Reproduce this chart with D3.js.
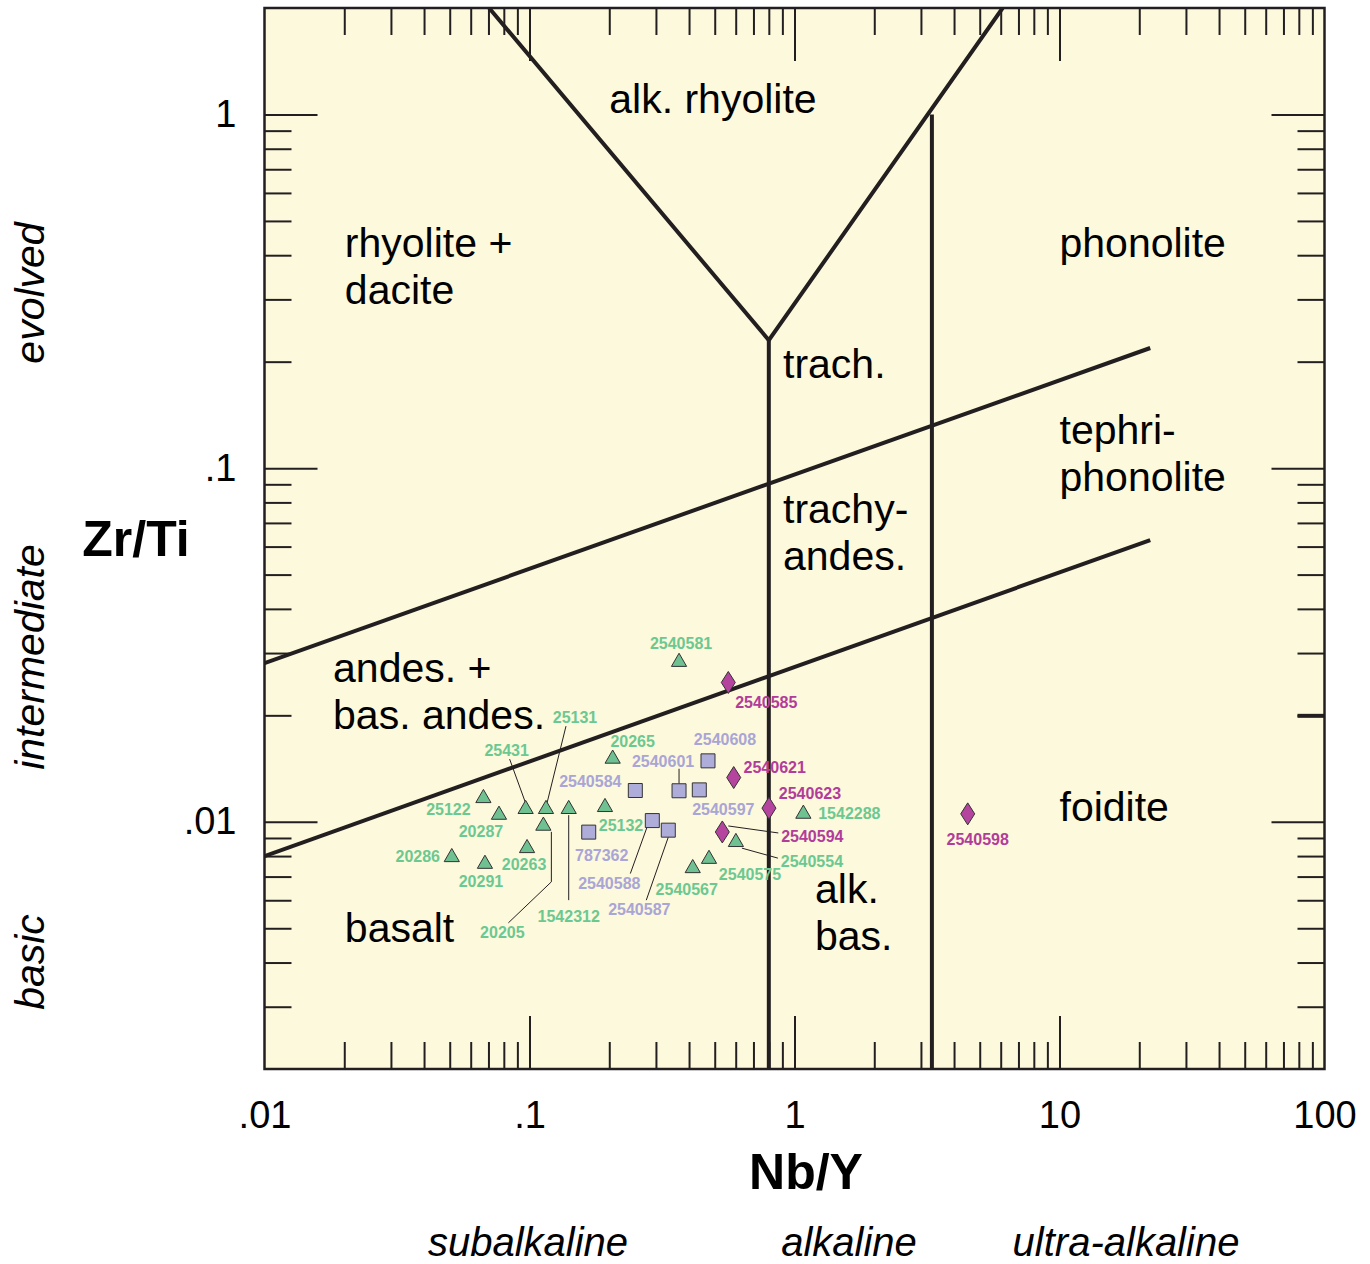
<html>
<head>
  <script src="https://d3js.org/d3.v7.min.js"></script>
  <style>
    body { margin: 0; background: #fff; }
    text { font-family: "Liberation Sans", Arial, Helvetica, sans-serif; }
    .region { font-size: 41px; fill: #000; }
    .sample-label { font-size: 16px; font-weight: bold; }
    .leader { stroke: #231f20; stroke-width: 1; fill: none; }
    .boundary { stroke: #231f20; stroke-width: 4; fill: none; }
  </style>
</head>
<body>
  <svg id="plot" width="1370" height="1264"></svg>

  <script>
    // samples (Nb/Y, Zr/Ti)
    const triIds = ["25122", "20287", "25431", "25131", "1542312", "20205", "20263", "20286",
                    "20291", "20265", "25132", "2540581", "2540554", "2540575", "2540567", "1542288"];
    const triNbY = [0.067, 0.0767, 0.0967, 0.1154, 0.1406, 0.1128, 0.0979, 0.0509,
                    0.0679, 0.206, 0.1927, 0.3667, 0.601, 0.4757, 0.413, 1.08];
    const triZrTi = [0.01166, 0.01046, 0.01086, 0.01086, 0.01086, 0.00974, 0.00842, 0.00794,
                     0.0076, 0.01507, 0.0110, 0.0283, 0.00876, 0.00785, 0.00739, 0.01053];

    const sqIds = ["2540608", "2540601", "2540597", "2540584", "2540588", "2540587", "787362"];
    const sqNbY = [0.4716, 0.3667, 0.4373, 0.2508, 0.2907, 0.334, 0.1673];
    const sqZrTi = [0.01487, 0.01224, 0.01231, 0.01226, 0.01008, 0.00947, 0.00935];

    const diaIds = ["2540585", "2540621", "2540623", "2540594", "2540598"];
    const diaNbY = [0.5625, 0.5897, 0.801, 0.534, 4.504];
    const diaZrTi = [0.02477, 0.01334, 0.01093, 0.00936, 0.01053];

    const xTickValues = [0.01, 0.1, 1, 10, 100];
    const xTickLabels = [".01", ".1", "1", "10", "100"];
    const yTickValues = [0.01, 0.1, 1];
    const yTickLabels = [".01", ".1", "1"];

    // field boundaries, [Nb/Y, Zr/Ti] pairs
    const boundaries = [
      [[0.01, 0.0281], [22, 0.2186]],
      [[0.01, 0.0080], [22, 0.0626]],
      [[0.0704, 2], [0.8, 0.23], [6.1, 2]],
      [[0.8, 0.23], [0.8, 0.002]],
      [[3.3, 1], [3.3, 0.002]]
    ];

    // field names: lines, Nb/Y at start, Zr/Ti at first baseline
    const regionText = [
      { lines: ["alk. rhyolite"], at: [0.2, 1.01] },
      { lines: ["rhyolite +", "dacite"], at: [0.0201, 0.395] },
      { lines: ["phonolite"], at: [10, 0.395] },
      { lines: ["trach."], at: [0.905, 0.18] },
      { lines: ["tephri-", "phonolite"], at: [10, 0.117] },
      { lines: ["trachy-", "andes."], at: [0.905, 0.070] },
      { lines: ["andes. +", "bas. andes."], at: [0.01814, 0.0248] },
      { lines: ["foidite"], at: [10, 0.01005] },
      { lines: ["basalt"], at: [0.0201, 0.00457] },
      { lines: ["alk.", "bas."], at: [1.195, 0.0059] }
    ];

    // label placement relative to the marker (text centre, baseline), px
    const labelOffset = {
      "25122": [-35, 17], "20287": [-18, 22], "25431": [-19, -53], "25131": [29, -86],
      "1542312": [0, 113], "20205": [-41, 112], "20263": [-3, 22], "20286": [-34, 5],
      "20291": [-4, 23], "20265": [20, -12], "25132": [16, 24], "2540581": [2, -13],
      "2540554": [76, 25], "2540575": [41, 21], "2540567": [-6, 27], "1542288": [46, 5],
      "2540608": [17, -16], "2540601": [-16, -24], "2540597": [24, 25], "2540584": [-45, -4],
      "2540588": [-43, 68], "2540587": [-29, 85], "787362": [13, 29],
      "2540585": [38, 26], "2540621": [41, -5], "2540623": [41, -9], "2540594": [90, 10],
      "2540598": [10, 31]
    };
    const leaders = {
      "25431": [[-16, -50], [0, -6]],
      "25131": [[20, -83], [1, -6]],
      "1542312": [[0, 6], [0, 91]],
      "20205": [[8, 6], [8, 56], [-35, 97]],
      "2540601": [[0, -22], [0, -7]],
      "2540588": [[-4, 3], [-22, 53]],
      "2540587": [[0, 7], [-22, 70]],
      "2540594": [[6, -6], [56, 1]],
      "2540554": [[6, 6], [42, 16]]
    };

    const svg = d3.select("svg#plot");
    const box = { left: 264.5, top: 8, right: 1324.5, bottom: 1069 };

    const x = d3.scaleLog().domain([0.01, 100]).range([box.left, box.right]);
    const y = d3.scaleLog().domain([0.002, 2]).range([box.bottom, box.top]);

    svg.append("rect")
      .attr("x", box.left).attr("y", box.top)
      .attr("width", box.right - box.left).attr("height", box.bottom - box.top)
      .attr("fill", "#fdf9dc");

    svg.append("clipPath").attr("id", "clip")
      .append("rect")
      .attr("x", box.left).attr("y", box.top)
      .attr("width", box.right - box.left).attr("height", box.bottom - box.top);

    // ticks (all pointing inwards)
    const xMajor = [0.1, 1, 10];
    const yMajor = [0.01, 0.1, 1];
    const xMinor = x.ticks().filter(d => !xTickValues.includes(d));
    const yMinor = y.ticks().filter(d => !yTickValues.includes(d) && d > 0.002 && d < 2);

    function tickAxis(axis, values, size, transform, width) {
      const g = svg.append("g")
        .attr("transform", transform)
        .call(axis.tickValues(values).tickSize(size).tickFormat(""));
      g.select(".domain").remove();
      g.selectAll("line").attr("stroke", "#231f20").attr("stroke-width", width || 2);
      return g;
    }
    tickAxis(d3.axisBottom(x), xMinor, 27, `translate(0,${box.top})`);
    tickAxis(d3.axisBottom(x), xMajor, 53, `translate(0,${box.top})`);
    tickAxis(d3.axisTop(x), xMinor, 27, `translate(0,${box.bottom})`);
    tickAxis(d3.axisTop(x), xMajor, 53, `translate(0,${box.bottom})`);
    tickAxis(d3.axisRight(y), yMinor, 27, `translate(${box.left},0)`);
    tickAxis(d3.axisRight(y), yMajor, 53, `translate(${box.left},0)`);
    tickAxis(d3.axisLeft(y), yMinor, 27, `translate(${box.right},0)`);
    tickAxis(d3.axisLeft(y), yMajor, 53, `translate(${box.right},0)`);
    tickAxis(d3.axisLeft(y), [0.02], 27, `translate(${box.right},0)`, 4);

    // tick labels
    const xLab = svg.append("g")
      .attr("transform", `translate(0,${box.bottom})`)
      .call(d3.axisBottom(x).tickValues(xTickValues).tickSize(0).tickPadding(32)
        .tickFormat((d, i) => xTickLabels[i]));
    xLab.select(".domain").remove();
    xLab.selectAll("text").attr("font-size", 38).attr("fill", "#000")
      .attr("font-family", "Liberation Sans, Arial, sans-serif");

    const yLab = svg.append("g")
      .attr("transform", `translate(${box.left},0)`)
      .call(d3.axisLeft(y).tickValues(yTickValues).tickSize(0).tickPadding(28)
        .tickFormat((d, i) => yTickLabels[i]));
    yLab.select(".domain").remove();
    yLab.selectAll("text").attr("font-size", 38).attr("fill", "#000")
      .attr("font-family", "Liberation Sans, Arial, sans-serif");

    // field boundaries
    const line = d3.line().x(d => x(d[0])).y(d => y(d[1]));
    const fields = svg.append("g").attr("clip-path", "url(#clip)");
    fields.selectAll("path")
      .data(boundaries)
      .join("path")
      .attr("class", "boundary")
      .attr("d", line);

    // field names
    regionText.forEach(r => {
      const t = svg.append("text")
        .attr("class", "region")
        .attr("x", x(r.at[0]))
        .attr("y", y(r.at[1]));
      r.lines.forEach((s, i) => {
        t.append("tspan")
          .attr("x", x(r.at[0]))
          .attr("dy", i === 0 ? 0 : 47)
          .text(s);
      });
    });

    // frame
    svg.append("rect")
      .attr("x", box.left).attr("y", box.top)
      .attr("width", box.right - box.left).attr("height", box.bottom - box.top)
      .attr("fill", "none").attr("stroke", "#231f20").attr("stroke-width", 2.5);

    // samples
    const groups = [
      { ids: triIds, nb: triNbY, zr: triZrTi, shape: d3.symbol(d3.symbolTriangle, 100)(),
        fill: "#6fc191", text: "#6cc891" },
      { ids: sqIds, nb: sqNbY, zr: sqZrTi, shape: d3.symbol(d3.symbolSquare, 196)(),
        fill: "#aeacd8", text: "#a9a5d6" },
      { ids: diaIds, nb: diaNbY, zr: diaZrTi, shape: "M0,-11L7,0L0,11L-7,0Z",
        fill: "#b5449f", text: "#b23c9a" }
    ];

    const samples = svg.append("g");
    groups.forEach(gr => {
      const pts = gr.ids.map((id, i) => ({ id, nb: gr.nb[i], zr: gr.zr[i] }));

      samples.selectAll(null)
        .data(pts.filter(d => leaders[d.id]))
        .join("path")
        .attr("class", "leader")
        .attr("d", d => {
          const px = x(d.nb), py = y(d.zr);
          return d3.line()(leaders[d.id].map(p => [px + p[0], py + p[1]]));
        });

      samples.selectAll(null)
        .data(pts)
        .join("path")
        .attr("d", gr.shape)
        .attr("transform", d => `translate(${x(d.nb)},${y(d.zr)})`)
        .attr("fill", gr.fill)
        .attr("stroke", "#333")
        .attr("stroke-width", 1);

      samples.selectAll(null)
        .data(pts)
        .join("text")
        .attr("class", "sample-label")
        .attr("text-anchor", "middle")
        .attr("x", d => x(d.nb) + labelOffset[d.id][0])
        .attr("y", d => y(d.zr) + labelOffset[d.id][1])
        .attr("fill", gr.text)
        .text(d => d.id);
    });

    // axis titles
    svg.append("text")
      .attr("x", 136).attr("y", 556)
      .attr("text-anchor", "middle")
      .attr("font-size", 50).attr("font-weight", "bold")
      .text("Zr/Ti");
    svg.append("text")
      .attr("x", 806).attr("y", 1189)
      .attr("text-anchor", "middle")
      .attr("font-size", 50).attr("font-weight", "bold")
      .text("Nb/Y");

    const sideNotes = [["evolved", 293], ["intermediate", 657], ["basic", 962]];
    sideNotes.forEach(([s, cy]) => {
      svg.append("text")
        .attr("transform", `translate(44,${cy}) rotate(-90)`)
        .attr("text-anchor", "middle")
        .attr("font-size", 41).attr("font-style", "italic")
        .text(s);
    });

    const bottomNotes = [["subalkaline", 528], ["alkaline", 849], ["ultra-alkaline", 1126]];
    bottomNotes.forEach(([s, cx]) => {
      svg.append("text")
        .attr("x", cx).attr("y", 1256)
        .attr("text-anchor", "middle")
        .attr("font-size", 40).attr("font-style", "italic")
        .text(s);
    });
  </script>
</body>
</html>
